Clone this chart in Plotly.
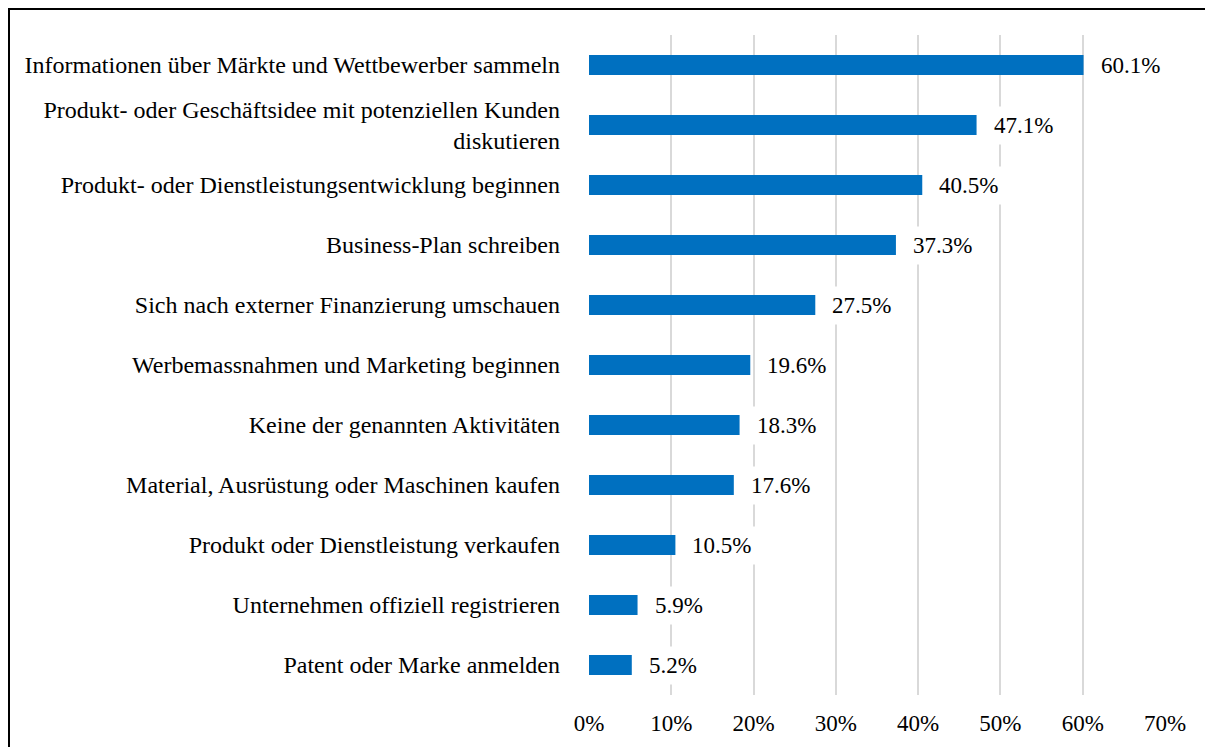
import plotly.graph_objects as go

categories = [
    "Informationen über Märkte und Wettbewerber sammeln",
    "Produkt- oder Geschäftsidee mit potenziellen Kunden<br>diskutieren",
    "Produkt- oder Dienstleistungsentwicklung beginnen",
    "Business-Plan schreiben",
    "Sich nach externer Finanzierung umschauen",
    "Werbemassnahmen und Marketing beginnen",
    "Keine der genannten Aktivitäten",
    "Material, Ausrüstung oder Maschinen kaufen",
    "Produkt oder Dienstleistung verkaufen",
    "Unternehmen offiziell registrieren",
    "Patent oder Marke anmelden",
]
values = [60.1, 47.1, 40.5, 37.3, 27.5, 19.6, 18.3, 17.6, 10.5, 5.9, 5.2]
tick_vals = [0, 10, 20, 30, 40, 50, 60, 70]
tick_text = ["0%", "10%", "20%", "30%", "40%", "50%", "60%", "70%"]

FONT = "'Liberation Serif', 'Times New Roman', Times, serif"

W, H = 1205, 739
L, R, T, B = 581, 48, 27, 52
pw = W - L - R
ph = H - T - B

fig = go.Figure()
fig.add_trace(go.Bar(
    y=categories,
    x=values,
    orientation="h",
    marker=dict(color="#0070C0", line=dict(width=0)),
    hoverinfo="x+y",
))

for c, v in zip(categories, values):
    fig.add_annotation(
        x=v, y=c, xref="x", yref="y",
        text=f"{v:.1f}%",
        showarrow=False,
        xanchor="left", yanchor="middle",
        xshift=10,
        bgcolor="white",
        borderpad=6,
        font=dict(family=FONT, size=23, color="black"),
    )

# outer frame (left and top edges visible)
fig.add_shape(
    type="rect", xref="paper", yref="paper",
    x0=(1 - L) / pw, x1=1.3,
    y0=-0.3, y1=(H - B - 1) / ph,
    line=dict(color="black", width=2),
    fillcolor="rgba(0,0,0,0)",
    layer="below",
)

fig.update_layout(
    width=W, height=H,
    margin=dict(l=L, r=R, t=T, b=B),
    paper_bgcolor="white",
    plot_bgcolor="white",
    bargap=0.667,
    showlegend=False,
    font=dict(family=FONT, size=23, color="black"),
    xaxis=dict(
        range=[0, 70],
        tickvals=tick_vals,
        ticktext=tick_text,
        showgrid=True,
        gridcolor="#D9D9D9",
        gridwidth=2,
        zeroline=False,
        showline=False,
        ticks="",
        ticklabelstandoff=12,
        tickfont=dict(family=FONT, size=23, color="black"),
        fixedrange=True,
    ),
    yaxis=dict(
        autorange="reversed",
        showgrid=False,
        zeroline=False,
        showline=False,
        ticks="",
        ticklabelstandoff=28,
        tickfont=dict(family=FONT, size=24, color="black"),
        fixedrange=True,
    ),
)

fig.write_html("out.html")
